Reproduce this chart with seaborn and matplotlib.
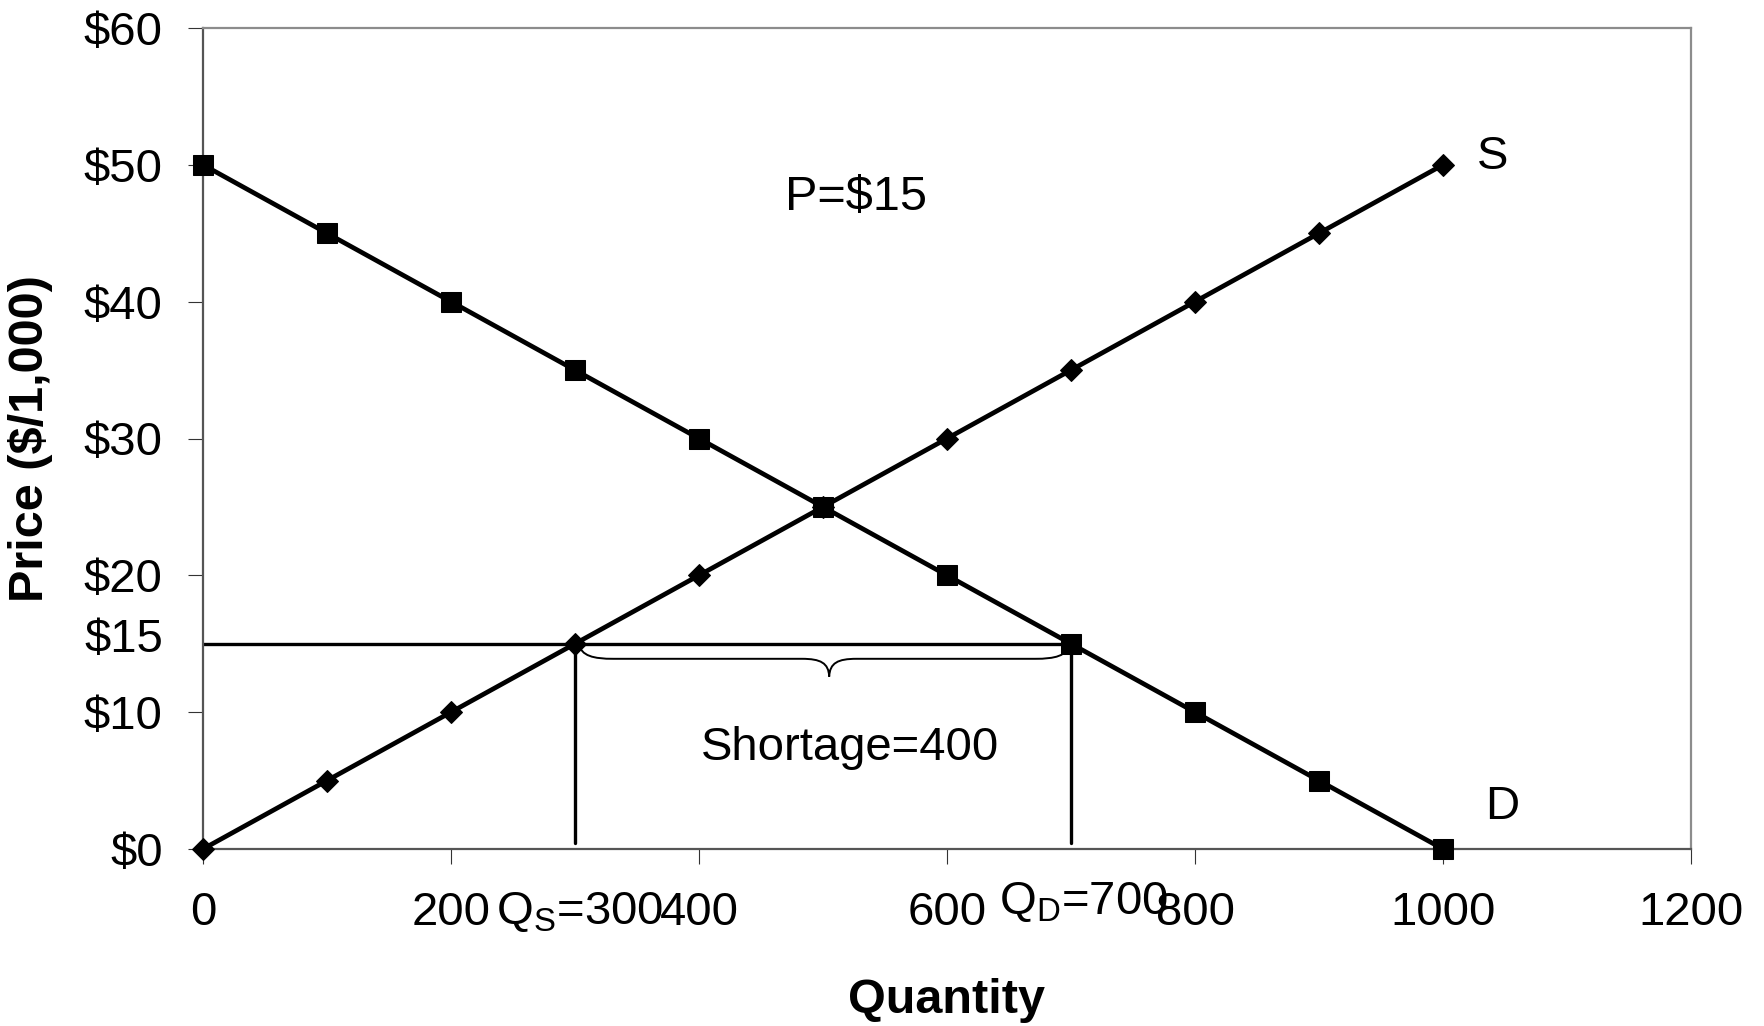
import numpy as np
import pandas as pd
import matplotlib
matplotlib.use("Agg")
import matplotlib.pyplot as plt
import matplotlib.transforms as mtransforms
from matplotlib.path import Path
from matplotlib.patches import PathPatch
import seaborn as sns

# ---------------- data ----------------
quantity = [0, 100, 200, 300, 400, 500, 600, 700, 800, 900, 1000]
supply_price = [0, 5, 10, 15, 20, 25, 30, 35, 40, 45, 50]
demand_price = [50, 45, 40, 35, 30, 25, 20, 15, 10, 5, 0]
x_ticks = [0, 200, 400, 600, 800, 1000, 1200]
y_ticks = [0, 10, 20, 30, 40, 50, 60]
y_tick_labels = ["$0", "$10", "$20", "$30", "$40", "$50", "$60"]
ceiling_price = 15
qs = 300
qd = 700
shortage = qd - qs

# ---------------- style ----------------
sns.set_theme(style="white")
plt.rcParams["font.family"] = ["Liberation Sans", "DejaVu Sans"]
plt.rcParams["mathtext.fontset"] = "custom"
plt.rcParams["mathtext.rm"] = "Liberation Sans"
plt.rcParams["mathtext.it"] = "Liberation Sans:italic"
plt.rcParams["mathtext.bf"] = "Liberation Sans:bold"
plt.rcParams["text.color"] = "black"
plt.rcParams["axes.labelcolor"] = "black"
plt.rcParams["xtick.color"] = "black"
plt.rcParams["ytick.color"] = "black"

FS = 34
fig = plt.figure(figsize=(17.65, 10.26), dpi=100)
ax = fig.add_axes([203 / 1765, 1 - 849 / 1026, (1691 - 203) / 1765, (849 - 28) / 1026])

df_s = pd.DataFrame({"Quantity": quantity, "Price": supply_price})
df_d = pd.DataFrame({"Quantity": quantity, "Price": demand_price})

# ceiling price lines
ax.plot([0, qd], [ceiling_price, ceiling_price], color="black", lw=2.4, zorder=2)
ax.plot([qs, qs], [0.45, ceiling_price], color="black", lw=2.4, zorder=2)
ax.plot([qd, qd], [0.45, ceiling_price], color="black", lw=2.4, zorder=2)

sns.lineplot(data=df_d, x="Quantity", y="Price", ax=ax, color="black", lw=3.4,
             marker="s", markersize=15, markeredgecolor="black", zorder=4,
             clip_on=False)
sns.lineplot(data=df_s, x="Quantity", y="Price", ax=ax, color="black", lw=3.4,
             marker="D", markersize=11, markeredgecolor="black", zorder=5,
             clip_on=False)

# brace below the shortage segment
x1, x2 = qs + 3, qd - 1
xm = (x1 + x2) / 2 + 4
yt = ceiling_price
yf = ceiling_price - 1.1
yp = ceiling_price - 2.4
verts = [
    (x1, yt),
    (x1 + 2, yt - 0.9), (x1 + 12, yf), (x1 + 28, yf),
    (xm - 22, yf),
    (xm - 7, yf), (xm - 0.5, yf - 0.3), (xm, yp),
    (xm + 0.5, yf - 0.3), (xm + 7, yf), (xm + 22, yf),
    (x2 - 28, yf),
    (x2 - 12, yf), (x2 - 2, yt - 0.9), (x2, yt),
]
codes = [Path.MOVETO,
         Path.CURVE4, Path.CURVE4, Path.CURVE4,
         Path.LINETO,
         Path.CURVE4, Path.CURVE4, Path.CURVE4,
         Path.CURVE4, Path.CURVE4, Path.CURVE4,
         Path.LINETO,
         Path.CURVE4, Path.CURVE4, Path.CURVE4]
ax.add_patch(PathPatch(Path(verts, codes), facecolor="none", edgecolor="black",
                       lw=1.4, zorder=3))

# axes
ax.set_xlim(0, 1200)
ax.set_ylim(0, 60)
ax.set_xticks(x_ticks)
ax.set_xticklabels([str(v) for v in x_ticks])
ax.set_yticks(y_ticks)
ax.set_yticklabels(y_tick_labels)
ax.tick_params(axis="both", which="major", direction="out", length=11, width=0.8,
               color="#333333", labelsize=FS, labelcolor="black",
               bottom=True, left=True)
ax.tick_params(axis="x", pad=19)
ax.tick_params(axis="y", pad=18)
for side in ["top", "right"]:
    ax.spines[side].set_color("#8c8c8c")
    ax.spines[side].set_linewidth(1.6)
for side in ["left", "bottom"]:
    ax.spines[side].set_color("#555555")
    ax.spines[side].set_linewidth(1.6)
ax.grid(False)

ax.set_xlabel("Quantity", fontsize=35, fontweight="bold", color="black")
ax.set_ylabel("Price ($/1,000)", fontsize=35, fontweight="bold", color="black")
ax.xaxis.set_label_coords(0.5, -0.157)
ax.xaxis.label.set_va("top")
ax.yaxis.set_label_coords(-0.101, 0.5)

# $15 label on the axis
trans_y = mtransforms.blended_transform_factory(ax.transAxes, ax.transData)
off = mtransforms.offset_copy(trans_y, fig=fig, x=0, y=6.5, units="points")
ax.text(-40 / 1488, ceiling_price, "$15", fontsize=FS, ha="right",
        va="center_baseline", transform=off)

# Qs / Qd labels under the axis
trans_x = mtransforms.blended_transform_factory(ax.transData, ax.transAxes)
ax.text(qs + 4, (849 - 924) / 821, r"Q$_\mathregular{S}$=300", fontsize=FS,
        ha="center", va="baseline", transform=trans_x)
ax.text(qd + 10, (849 - 914) / 821, r"Q$_\mathregular{D}$=700", fontsize=FS,
        ha="center", va="baseline", transform=trans_x)

# annotations
ax.text(527, 47.6, "P=$15", fontsize=35, ha="center", va="center")
ax.text(522, 7.35, f"Shortage={shortage}", fontsize=FS, ha="center", va="center")
ax.text(1040, 50.6, "S", fontsize=FS, ha="center", va="center")
ax.text(1048, 3.05, "D", fontsize=FS, ha="center", va="center")

fig.savefig("out.png", dpi=100, facecolor="white")
